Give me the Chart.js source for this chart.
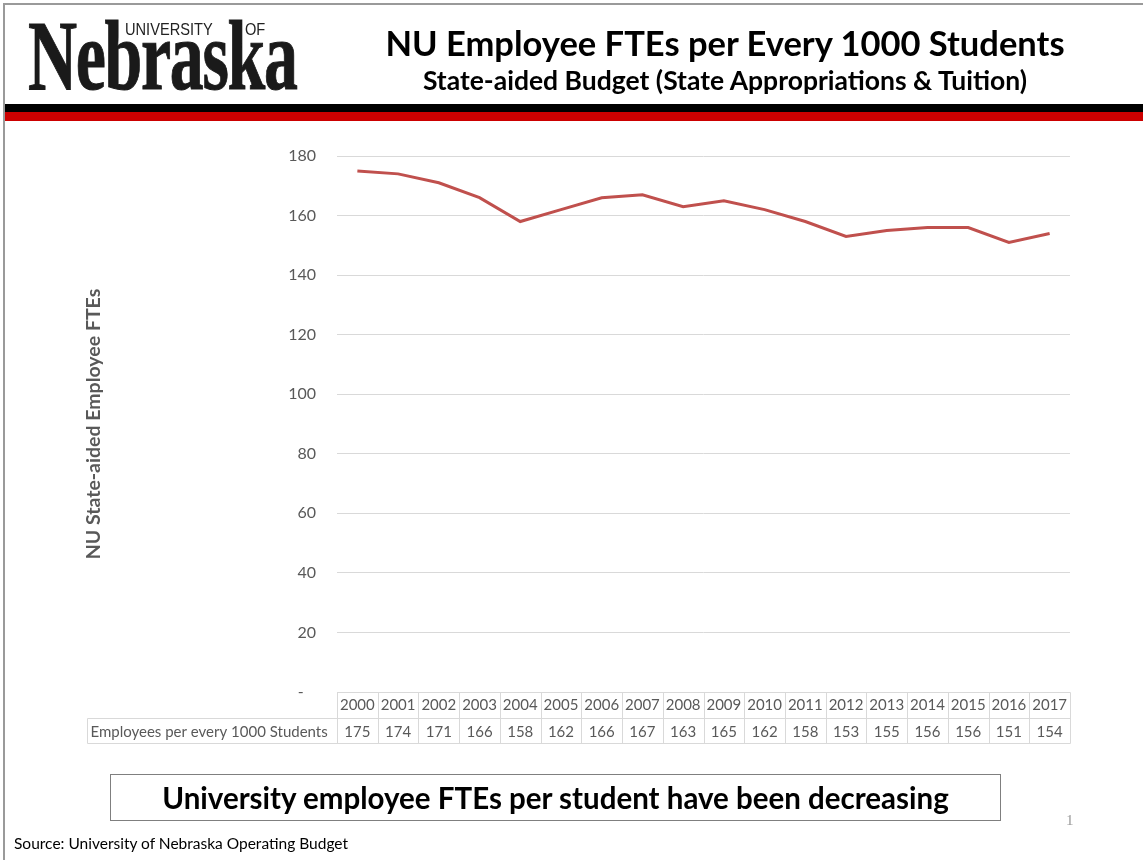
<!DOCTYPE html>
<html>
<head>
<meta charset="utf-8">
<script src="https://cdn.jsdelivr.net/npm/chart.js@4/dist/chart.umd.min.js"></script>
<style>
  html, body { margin: 0; padding: 0; background: #fff; }
  body { width: 1143px; height: 860px; position: relative; overflow: hidden; font-family: Lato, "Open Sans", sans-serif; }
  #chart { position: absolute; left: 0; top: 0; }
  .frame-top { position: absolute; left: 3px; top: 3px; width: 1140px; height: 2px; background: #9a9a9a; }
  .frame-left { position: absolute; left: 3px; top: 3px; width: 2px; height: 857px; background: #9a9a9a; }
  .bar-black { position: absolute; left: 5px; top: 104px; width: 1138px; height: 8px; background: #000; }
  .bar-red { position: absolute; left: 5px; top: 112px; width: 1138px; height: 9px; background: #cc0000; }
  .logo { position: absolute; left: 28px; top: 6px; width: 280px; height: 96px; }
  .logo .word { position: absolute; left: 0; top: 0; font-family: "Liberation Serif", "DejaVu Serif", serif; font-weight: bold; font-size: 100px; line-height: 100px; color: #1a1a1a; transform: scaleX(0.68); transform-origin: left top; letter-spacing: -2px; white-space: nowrap; -webkit-text-stroke: 1px #1a1a1a; }
  .logo .univ { position: absolute; left: 97px; top: 14px; font-family: "Liberation Sans", Arial, sans-serif; font-size: 17px; line-height: 20px; color: #222; transform: scaleX(0.86); transform-origin: left top; white-space: nowrap; }
  .logo .of { position: absolute; left: 217px; top: 14px; font-family: "Liberation Sans", Arial, sans-serif; font-size: 17px; line-height: 20px; color: #222; transform: scaleX(0.86); transform-origin: left top; }
  .title { position: absolute; left: 300px; width: 850px; text-align: center; top: 21px; font-weight: bold; font-size: 34.5px; line-height: 44px; color: #000; white-space: nowrap; }
  .subtitle { position: absolute; left: 300px; width: 850px; text-align: center; top: 64px; font-weight: bold; font-size: 26.5px; line-height: 32px; color: #000; white-space: nowrap; }
  .callout { position: absolute; left: 110px; top: 774px; width: 889px; height: 45px; border: 1.5px solid #7f7f7f; text-align: center; font-weight: bold; font-size: 29.5px; line-height: 45px; color: #000; white-space: nowrap; }
  .page { position: absolute; left: 1066px; top: 812px; font-family: "Liberation Serif", serif; font-size: 15px; color: #9a9a9a; }
  .source { position: absolute; left: 14px; top: 834px; font-size: 15.5px; line-height: 18px; color: #000; letter-spacing: 0; white-space: nowrap; }
</style>
</head>
<body>
<canvas id="chart" width="1143" height="860"></canvas>

<div class="frame-top"></div>
<div class="frame-left"></div>
<div class="logo">
  <div class="word">Nebraska</div>
  <div class="univ">UNIVERSITY</div>
  <div class="of">OF</div>
</div>
<div class="title">NU Employee FTEs per Every 1000 Students</div>
<div class="subtitle">State-aided Budget (State Appropriations &amp; Tuition)</div>
<div class="bar-black"></div>
<div class="bar-red"></div>
<div class="callout">University employee FTEs per student have been decreasing</div>
<div class="page">1</div>
<div class="source">Source: University of Nebraska Operating Budget</div>

<script>
// Fiscal years shown along the category axis
const years = ['2000','2001','2002','2003','2004','2005','2006','2007','2008',
               '2009','2010','2011','2012','2013','2014','2015','2016','2017'];

// State-aided employee FTEs per every 1000 students
const employeesPer1000 = [175, 174, 171, 166, 158, 162, 166, 167, 163,
                          165, 162, 158, 153, 155, 156, 156, 151, 154];

// Value axis ticks
const yTicks = [0, 20, 40, 60, 80, 100, 120, 140, 160, 180];

const seriesLabel = 'Employees per every 1000 Students';
const yAxisTitle = 'NU State-aided Employee FTEs';

const textGray = '#595959';
const gridGray = '#d9d9d9';
const tableFont = '15px Lato, "Open Sans", sans-serif';

// Draws the data table under the plot, aligned to the category scale
const dataTablePlugin = {
  id: 'dataTable',
  afterDraw(chart) {
    const { ctx, chartArea } = chart;
    const x = chart.scales.x;
    const n = years.length;
    const half = (x.getPixelForValue(1) - x.getPixelForValue(0)) / 2;
    const left = Math.round(x.getPixelForValue(0) - half) + 0.5;
    const right = Math.round(x.getPixelForValue(n - 1) + half) + 0.5;
    const top = Math.round(chartArea.bottom) + 0.5;
    const mid = top + 26;
    const bottom = top + 51;
    const labelLeft = 87.5;

    ctx.save();
    ctx.strokeStyle = gridGray;
    ctx.lineWidth = 1;
    ctx.beginPath();
    ctx.moveTo(left, top); ctx.lineTo(right, top);
    ctx.moveTo(labelLeft, mid); ctx.lineTo(right, mid);
    ctx.moveTo(labelLeft, bottom); ctx.lineTo(right, bottom);
    for (let i = 0; i <= n; i++) {
      const xp = Math.round(x.getPixelForValue(0) - half + i * 2 * half) + 0.5;
      ctx.moveTo(xp, top); ctx.lineTo(xp, bottom);
    }
    ctx.moveTo(labelLeft, mid); ctx.lineTo(labelLeft, bottom);
    ctx.stroke();

    ctx.fillStyle = textGray;
    ctx.font = tableFont;
    ctx.textBaseline = 'middle';
    ctx.textAlign = 'center';
    const rowY = (mid + bottom) / 2 + 1;
    employeesPer1000.forEach((v, i) => {
      ctx.fillText(String(v), x.getPixelForValue(i), rowY);
    });
    ctx.textAlign = 'left';
    ctx.fillText(seriesLabel, labelLeft + 3, rowY);
    ctx.restore();
  }
};

new Chart(document.getElementById('chart'), {
  type: 'line',
  data: {
    labels: years,
    datasets: [{
      label: seriesLabel,
      data: employeesPer1000,
      borderColor: '#c0504d',
      backgroundColor: '#c0504d',
      borderWidth: 3,
      pointRadius: 0,
      tension: 0,
      fill: false
    }]
  },
  options: {
    responsive: false,
    devicePixelRatio: 1,
    animation: false,
    events: [],
    layout: { padding: { top: 156, right: 73, bottom: 117, left: 80 } },
    plugins: {
      legend: { display: false },
      tooltip: { enabled: false }
    },
    scales: {
      x: {
        type: 'category',
        offset: true,
        grid: { display: false, drawTicks: false },
        border: { display: false },
        ticks: {
          color: textGray,
          font: { family: 'Lato, "Open Sans", sans-serif', size: 15 },
          padding: 4,
          autoSkip: false,
          maxRotation: 0,
          minRotation: 0
        },
        afterFit(scale) { scale.height = 51; }
      },
      y: {
        min: yTicks[0],
        max: yTicks[yTicks.length - 1],
        afterBuildTicks(scale) { scale.ticks = yTicks.map(v => ({ value: v })); },
        grid: { color: gridGray, lineWidth: 1, drawTicks: false },
        border: { display: false },
        ticks: {
          color: textGray,
          font: { family: 'Lato, "Open Sans", sans-serif', size: 16 },
          padding: 21,
          callback: v => (v === 0 ? '-   ' : String(v))
        },
        title: {
          display: true,
          text: yAxisTitle,
          color: textGray,
          font: { family: 'Lato, "Open Sans", sans-serif', size: 19.5, weight: 'bold' },
          padding: { top: 2, bottom: 0 }
        },
        afterFit(scale) { scale.width = 257; }
      }
    }
  },
  plugins: [dataTablePlugin]
});
</script>
</body>
</html>
